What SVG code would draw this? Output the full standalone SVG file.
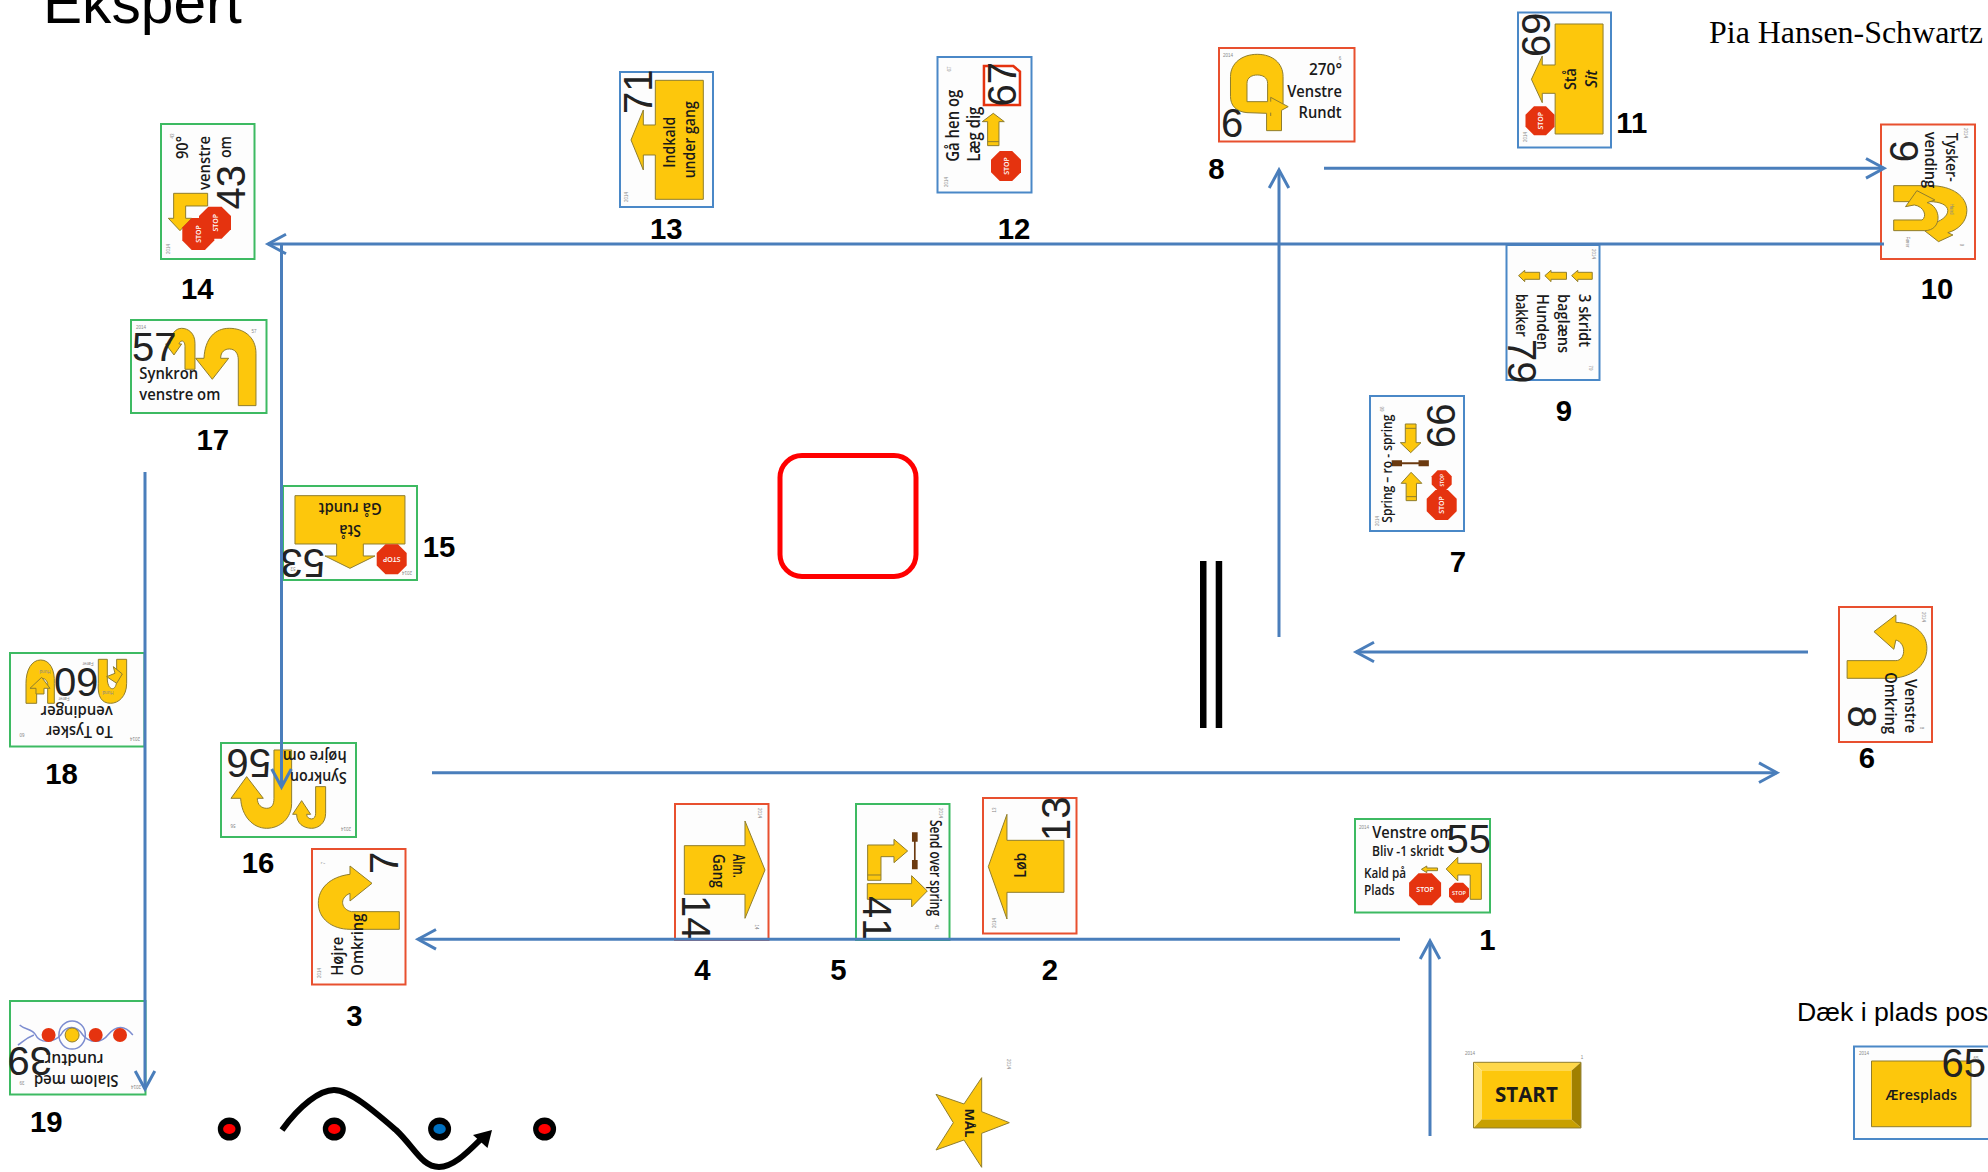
<svg xmlns="http://www.w3.org/2000/svg" width="1988" height="1172" viewBox="0 0 1988 1172">
<style>
text{font-family:"Open Sans","Liberation Sans",sans-serif}
.bg{fill:#fff}
.c{fill:#fdfdfd;stroke-width:2}
.r{stroke:#e8502f}.g{stroke:#3dba62}.b{stroke:#4a88c7}
.a{fill:#fdc70c;stroke:#8f7d2e;stroke-width:1;vector-effect:non-scaling-stroke}
.ln{fill:none;stroke:#8f7d2e;stroke-width:1;vector-effect:non-scaling-stroke}
.h{fill:#fdfdfd;stroke:#8f7d2e;stroke-width:1;vector-effect:non-scaling-stroke}
.j{fill:#6b3a10}
.t{font-size:17px;font-weight:600;fill:#1a1a1a}
.n{font-family:"Liberation Sans",sans-serif;font-size:40px;fill:#222}
.l{font-family:"Liberation Sans",sans-serif;font-size:29.33px;font-weight:700;fill:#000;text-anchor:middle}
.s{font-family:"Liberation Sans",sans-serif;font-size:4.5px;fill:#888;text-anchor:middle}
.st{font-size:7px;font-weight:600;fill:#fff;text-anchor:middle;dominant-baseline:central}
.ct{fill:none;stroke:#4a7ebb;stroke-width:3;marker-end:url(#ah)}
.wv{fill:none;stroke:#7d8dd0;stroke-width:1.5;vector-effect:non-scaling-stroke}
</style>
<defs>
<polygon id="o" fill="#e5330f" points="-.414,-1 .414,-1 1,-.414 1,.414 .414,1 -.414,1 -1,.414 -1,-.414"/>
<marker id="ah" markerUnits="userSpaceOnUse" markerWidth="26" markerHeight="26" refX="21" refY="13" orient="auto" overflow="visible">
<path d="M3,3.2 L21,13 L3,22.8" fill="none" stroke="#4a7ebb" stroke-width="3"/>
</marker>
</defs>
<rect class="bg" width="1988" height="1172"/>
<text x="43" y="23" font-size="58.67" style="font-family:'Liberation Sans',sans-serif" fill="#000">Ekspert</text>
<text x="1709" y="42.5" font-size="32" style="font-family:'Liberation Serif',serif" fill="#000" textLength="274" lengthAdjust="spacingAndGlyphs">Pia Hansen-Schwartz</text>
<text x="1797" y="1020.5" font-size="26.67" style="font-family:'Liberation Sans',sans-serif" fill="#000">Dæk i plads pos</text>

<g id="n14">
<rect class="c g" x="161" y="124" width="93.5" height="135"/>
<g transform="scale(.3333)"><polygon class="a" points="521,580 623,580 623,618 557,618 557,655 575,655 540,692 505,655 521,655"/></g>
<use href="#o" transform="translate(198.3,234) scale(16)"/><use href="#o" transform="translate(215,222.7) scale(16)"/>
<text class="st" transform="translate(198.3,234) rotate(-90)">STOP</text><text class="st" transform="translate(215,222.7) rotate(-90)">STOP</text>
<text class="t" transform="translate(188,159) rotate(-90)" textLength="23" lengthAdjust="spacingAndGlyphs">90°</text>
<text class="t" transform="translate(210,190) rotate(-90)" textLength="54" lengthAdjust="spacingAndGlyphs">venstre</text>
<text class="t" transform="translate(231,158) rotate(-90)" textLength="22" lengthAdjust="spacingAndGlyphs">om</text>
<text class="n" transform="translate(245,209.5) rotate(-90)">43</text>
<text class="s" transform="translate(174,136) rotate(-90)">43</text><text class="s" transform="translate(170,249) rotate(-90)">2014</text>
</g>
<g id="n17">
<rect class="c g" x="131" y="320" width="135.5" height="93"/>
<g transform="scale(.3333)">
<path class="a" d="M585,1108 L585,1030 C585,1000 565,985 545,985 C525,985 512,1005 510,1032 L497,1032 L522,1065 L545,1032 L537,1032 C540,1020 555,1018 555,1040 L555,1108 Z"/>
<path class="a" d="M768,1217 L768,1060 C768,1010 730,985 688,985 C645,985 615,1015 612,1075 L587,1075 L637,1138 L686,1075 L662,1075 C662,1055 675,1047 688,1047 C705,1047 715,1060 715,1080 L715,1217 Z"/>
</g>
<text class="n" x="132" y="361">57</text>
<text class="t" x="139.3" y="379.3" textLength="59" lengthAdjust="spacingAndGlyphs">Synkron</text>
<text class="t" x="139.3" y="400" textLength="81" lengthAdjust="spacingAndGlyphs">venstre om</text>
<text class="s" x="141" y="329">2014</text><text class="s" x="254" y="333">57</text>
</g>
<g id="n13">
<rect class="c b" x="620" y="72" width="93" height="135"/>
<g transform="translate(580,0) scale(.3333)"><polygon class="a" points="370,241 226,241 226,375 190,375 190,330 153,420 190,510 190,465 226,465 226,598 370,598"/></g>
<text class="t" transform="translate(675.3,167.7) rotate(-90)" textLength="51" lengthAdjust="spacingAndGlyphs">Indkald</text>
<text class="t" transform="translate(695,178.3) rotate(-90)" textLength="77" lengthAdjust="spacingAndGlyphs">under gang</text>
<text class="n" transform="translate(652.3,114) rotate(-90)">71</text>
<text class="s" transform="translate(628,197) rotate(-90)">2014</text>
</g>
<g id="n12">
<rect class="c b" x="937.5" y="57" width="94" height="135.5"/>
<g transform="translate(580,0) scale(.3333)">
<polygon class="a" style="fill:#fff;stroke:#e5330f;stroke-width:2.5" points="1212,198 1300,198 1320,215 1320,315 1212,315"/>
<polygon class="a" points="1240,340 1273,365 1257,365 1257,437 1223,437 1223,365 1207,365"/><path class="ln" d="M1223,425 H1257"/>
</g>
<use href="#o" transform="translate(1006,166) scale(15)"/>
<text class="st" transform="translate(1006,166) rotate(-90)">STOP</text>
<text class="t" style="font-size:18px" transform="translate(959.3,161.7) rotate(-90)" textLength="72" lengthAdjust="spacingAndGlyphs">Gå hen og</text>
<text class="t" style="font-size:18px" transform="translate(980,161.7) rotate(-90)" textLength="55" lengthAdjust="spacingAndGlyphs">Læg dig</text>
<text class="n" transform="translate(1016,106.5) rotate(-90)">67</text>
<text class="s" transform="translate(951,69) rotate(-90)">67</text><text class="s" transform="translate(948,182) rotate(-90)">2014</text>
</g>
<g id="n8">
<rect class="c r" x="1219" y="48" width="135.5" height="93.5"/>
<g transform="translate(1180,0) scale(.5153,.3333)">
<path class="a" d="M168,392 L168,340 L130,338 C108,335 98,315 98,290 L98,230 C98,190 120,163 150,163 C180,163 200,190 200,230 L200,312 L210,320 L197,331 L197,392 Z"/>
<path class="h" d="M130,305 L130,250 C130,232 140,225 150,225 C160,225 170,232 170,250 L170,305 Z"/>
<path class="ln" d="M176,305 L176,292 L200,312 M176,348 L176,338"/>
</g>
<text class="t" x="1309" y="75" textLength="33" lengthAdjust="spacingAndGlyphs">270°</text>
<text class="t" x="1287.2" y="96.7" textLength="54.7" lengthAdjust="spacingAndGlyphs">Venstre</text>
<text class="t" x="1298.6" y="117.7" textLength="43" lengthAdjust="spacingAndGlyphs">Rundt</text>
<text class="n" x="1221" y="136.7">6</text>
<text class="s" x="1228" y="57">2014</text><text class="s" x="1340" y="60">6</text>
</g>
<g id="n11">
<rect class="c b" x="1518" y="12.5" width="93" height="135"/>
<g transform="translate(1180,0) scale(.5153,.3333)"><polygon class="a" points="821,72 728,72 728,195 703,195 703,168 682,238 703,308 703,280 728,280 728,402 821,402"/></g>
<use href="#o" transform="translate(1540,120.7) scale(14.5)"/>
<text class="st" transform="translate(1540,120.7) rotate(-90)">STOP</text>
<text class="t" transform="translate(1576,90) rotate(-90)" textLength="21.7" lengthAdjust="spacingAndGlyphs">Stå</text>
<text class="t" style="font-style:italic" transform="translate(1596.5,87.7) rotate(-90)" textLength="17.7" lengthAdjust="spacingAndGlyphs">Sit</text>
<text class="n" transform="translate(1550,57) rotate(-90)">69</text>
<text class="s" transform="translate(1527,137) rotate(-90)">2014</text>
</g>
<g id="n10">
<rect class="c r" x="1881" y="124.5" width="94" height="134.5"/>
<g transform="translate(1180,0) scale(.5153,.3333)">
<path class="a" d="M1385,557 L1455,557 C1500,557 1527,590 1527,632 C1527,665 1510,690 1490,698 L1500,705 L1472,725 L1435,680 L1460,670 C1475,665 1490,650 1490,632 C1490,615 1475,605 1455,605 L1385,605 Z"/>
<path class="a" d="M1385,692 L1445,692 C1480,692 1478,620 1450,608 L1465,600 L1430,572 L1408,620 L1425,615 C1445,620 1450,650 1440,660 L1385,660 Z"/>
</g>
<text class="t" style="font-size:16px" transform="translate(1945.5,132.7) rotate(90)" textLength="49" lengthAdjust="spacingAndGlyphs">Tysker-</text>
<text class="t" style="font-size:16px" transform="translate(1924.8,131.7) rotate(90)" textLength="56.6" lengthAdjust="spacingAndGlyphs">vending</text>
<text class="n" transform="translate(1890,140) rotate(90)">9</text>
<text class="s" transform="translate(1950,209) rotate(90)">Hund</text><text class="s" transform="translate(1906,242) rotate(90)">Fører</text>
<text class="s" transform="translate(1960,245) rotate(90)">9</text><text class="s" transform="translate(1964,133) rotate(90)">2014</text>
</g>
<g id="n9">
<rect class="c b" x="1506.5" y="245" width="93" height="135"/>
<g transform="translate(1180,0) scale(.5153,.3333)">
<polygon class="a" points="800,817 800,838 772,838 772,845 760,827 772,811 772,817"/>
<polygon class="a" points="750,817 750,838 720,838 720,845 708,827 720,811 720,817"/>
<polygon class="a" points="698,817 698,838 669,838 669,845 657,827 669,811 669,817"/>
</g>
<text class="t" style="font-size:16px" transform="translate(1578.5,294) rotate(90)" textLength="53" lengthAdjust="spacingAndGlyphs">3 skridt</text>
<text class="t" style="font-size:16px" transform="translate(1557.8,294) rotate(90)" textLength="59" lengthAdjust="spacingAndGlyphs">baglæns</text>
<text class="t" style="font-size:16px" transform="translate(1536.7,294) rotate(90)" textLength="56" lengthAdjust="spacingAndGlyphs">Hunden</text>
<text class="t" style="font-size:16px" transform="translate(1516,294) rotate(90)" textLength="42.7" lengthAdjust="spacingAndGlyphs">bakker</text>
<text class="n" transform="translate(1508.4,339) rotate(90)">79</text>
<text class="s" transform="translate(1589,368) rotate(90)">79</text><text class="s" transform="translate(1592,254) rotate(90)">2014</text>
</g>
<g id="n7">
<rect class="c b" x="1370" y="396" width="94" height="135"/>
<g transform="translate(1340,380) scale(.4133,.3333)">
<polygon class="a" points="158,132 184,132 184,188 196,188 171,218 146,188 158,188"/><path class="ln" d="M158,145 H184"/>
<polygon class="a" points="172,277 198,310 185,310 185,362 160,362 160,310 148,310"/><path class="ln" d="M160,350 H185"/>
<path class="j" d="M125,241 H150 V247 H190 V241 H215 V259 H190 V253 H150 V259 H125 Z"/>
</g>
<use href="#o" transform="translate(1441.7,480.3) scale(10)"/><use href="#o" transform="translate(1441.7,505) scale(15)"/>
<text class="st" style="font-size:5px" transform="translate(1441.7,480.3) rotate(-90)">STOP</text>
<text class="st" transform="translate(1441.7,505) rotate(-90)">STOP</text>
<text class="t" style="font-size:15px" transform="translate(1391.7,522.7) rotate(-90)" textLength="108" lengthAdjust="spacingAndGlyphs">Spring – ro - spring</text>
<text class="n" transform="translate(1454.9,448) rotate(-90)">66</text>
<text class="s" transform="translate(1384,409) rotate(-90)">66</text><text class="s" transform="translate(1379,521) rotate(-90)">2014</text>
</g>
<g id="n6">
<rect class="c r" x="1839" y="607" width="93" height="135"/>
<g transform="translate(1340,380) scale(.4133,.3333)">
<path class="a" d="M1227,842 L1345,842 C1368,842 1372,790 1345,780 L1340,808 L1292,755 L1345,705 L1345,727 C1395,730 1420,765 1420,805 C1420,860 1380,895 1330,895 L1227,895 Z"/>
</g>
<text class="t" transform="translate(1905.3,679) rotate(90)" textLength="54" lengthAdjust="spacingAndGlyphs">Venstre</text>
<text class="t" transform="translate(1884.6,672.3) rotate(90)" textLength="61.7" lengthAdjust="spacingAndGlyphs">Omkring</text>
<text class="n" transform="translate(1848,705.5) rotate(90)">8</text>
<text class="s" transform="translate(1922,617) rotate(90)">2014</text><text class="s" transform="translate(1920,728) rotate(90)">8</text>
</g>
<g id="n15">
<rect class="c g" x="283" y="486" width="134" height="94"/>
<g transform="translate(0,470) scale(.3333)"><polygon class="a" points="885,77 1215,77 1215,222 1090,222 1090,258 1125,258 1050,295 975,258 1010,258 1010,222 885,222"/></g>
<use href="#o" transform="translate(391.7,559.3) scale(15)"/>
<text class="st" transform="translate(391.7,559.3) rotate(180)">STOP</text>
<text class="t" transform="translate(381.7,503.3) rotate(180)" textLength="63" lengthAdjust="spacingAndGlyphs">Gå rundt</text>
<text class="t" transform="translate(361,525) rotate(180)" textLength="21.7" lengthAdjust="spacingAndGlyphs">Stå</text>
<text class="n" transform="translate(325,549.3) rotate(180)">53</text>
<text class="s" transform="translate(407,571) rotate(180)">2014</text><text class="s" transform="translate(293,567) rotate(180)">53</text>
</g>
<g id="n18">
<rect class="c g" x="10" y="653" width="134.5" height="93.5"/>
<g transform="translate(0,470) scale(.3333)">
<path class="a" d="M78,700 L110,700 L110,650 C110,625 135,615 143,640 L143,700 L163,700 L163,640 C165,600 150,570 122,570 C95,570 78,600 78,640 Z"/>
<polygon class="a" points="90,655 125,622 150,655 132,655 132,672 108,672 108,655"/>
<path class="a" d="M295,568 L322,568 L322,630 C325,665 350,665 350,630 L350,568 L380,568 L380,640 C380,680 355,700 332,700 C305,700 292,680 295,640 Z"/>
<polygon class="a" points="320,620 350,640 367,612 340,590 345,610"/>
</g>
<text class="t" transform="translate(112.7,726) rotate(180)" textLength="66.7" lengthAdjust="spacingAndGlyphs">To Tysker</text>
<text class="t" transform="translate(112.7,706) rotate(180)" textLength="72" lengthAdjust="spacingAndGlyphs">vendinger</text>
<text class="n" transform="translate(98.5,668.3) rotate(180)">60</text>
<text class="s" transform="translate(45,670) rotate(180)">Hund</text><text class="s" transform="translate(108,691) rotate(180)">Hund</text>
<text class="s" transform="translate(88,662) rotate(180)">Fører</text><text class="s" transform="translate(64,697) rotate(180)">Fører</text>
<text class="s" transform="translate(135,737) rotate(180)">2014</text><text class="s" transform="translate(22,733) rotate(180)">60</text>
</g>
<g id="n16">
<rect class="c g" x="221" y="743" width="135" height="94"/>
<g transform="translate(0,470) scale(.3333)">
<path class="a" d="M822,840 L875,840 L875,1000 C875,1045 840,1075 800,1075 C760,1075 725,1040 722,985 L693,985 L740,920 L790,985 L772,985 C772,1005 785,1015 800,1015 C815,1015 822,1005 822,985 Z"/>
<path class="a" d="M947,950 L977,950 L977,1030 C977,1060 955,1075 935,1075 C910,1075 890,1060 890,1033 L878,1033 L905,992 L932,1033 L920,1033 C920,1042 928,1047 935,1047 C942,1047 947,1040 947,1030 Z"/>
</g>
<text class="t" transform="translate(346.7,751) rotate(180)" textLength="64" lengthAdjust="spacingAndGlyphs">højre om</text>
<text class="t" transform="translate(346.7,772.3) rotate(180)" textLength="56.7" lengthAdjust="spacingAndGlyphs">Synkron</text>
<text class="n" transform="translate(271,749.3) rotate(180)">56</text>
<text class="s" transform="translate(346,827) rotate(180)">2014</text><text class="s" transform="translate(233,824) rotate(180)">56</text>
</g>
<g id="n4">
<rect class="c r" x="675" y="804" width="93.5" height="136"/>
<g transform="translate(640,780) scale(.3333)"><polygon class="a" points="133,197 315,197 315,123 375,270 315,415 315,343 133,343"/></g>
<text class="t" transform="translate(733.3,854) rotate(90)" textLength="23.7" lengthAdjust="spacingAndGlyphs">Alm.</text>
<text class="t" transform="translate(713.3,854) rotate(90)" textLength="33.7" lengthAdjust="spacingAndGlyphs">Gang</text>
<text class="n" transform="translate(682.3,895) rotate(90)">14</text>
<text class="s" transform="translate(758,813) rotate(90)">2014</text><text class="s" transform="translate(755,927) rotate(90)">14</text>
</g>
<g id="n5">
<rect class="c g" x="856" y="804" width="93.5" height="136"/>
<g transform="translate(640,780) scale(.3333)">
<polygon class="a" points="683,195 762,195 762,178 803,213 762,248 762,230 723,230 723,301 683,301"/><path class="ln" d="M683,285 H723"/>
<polygon class="a" points="682,311 815,311 815,287 862,333 815,381 815,358 682,358"/>
<path class="j" d="M816,157 H833 V185 H827 V240 H833 V268 H816 V240 H822 V185 H816 Z"/>
</g>
<text class="t" style="font-size:16px" transform="translate(930,820) rotate(90)" textLength="96" lengthAdjust="spacingAndGlyphs">Send over spring</text>
<text class="n" transform="translate(863.3,896) rotate(90)">41</text>
<text class="s" transform="translate(939,813) rotate(90)">2014</text><text class="s" transform="translate(935,927) rotate(90)">41</text>
</g>
<g id="n2">
<rect class="c r" x="983" y="798" width="93.5" height="135.5"/>
<g transform="translate(640,780) scale(.3333)"><polygon class="a" points="1272,181 1101,181 1101,103 1045,260 1101,417 1101,337 1272,337"/></g>
<text class="t" transform="translate(1026,877.7) rotate(-90)" textLength="25" lengthAdjust="spacingAndGlyphs">Løb</text>
<text class="n" transform="translate(1070,841) rotate(-90)">13</text>
<text class="s" transform="translate(996,810) rotate(-90)">13</text><text class="s" transform="translate(996,923) rotate(-90)">2014</text>
</g>
<g id="n3">
<rect class="c r" x="312" y="849" width="93.5" height="135.5"/>
<g transform="translate(300,830) scale(.3333)">
<path class="a" d="M298,245 L155,245 C125,240 115,205 150,190 L150,213 L216,160 L150,108 L150,133 C90,140 55,175 55,220 C55,265 95,298 150,298 L298,298 Z"/>
</g>
<text class="t" transform="translate(343.3,975.7) rotate(-90)" textLength="39" lengthAdjust="spacingAndGlyphs">Højre</text>
<text class="t" transform="translate(363.3,975.7) rotate(-90)" textLength="62" lengthAdjust="spacingAndGlyphs">Omkring</text>
<text class="n" transform="translate(398.3,874) rotate(-90)">7</text>
<text class="s" transform="translate(325,863) rotate(-90)">7</text><text class="s" transform="translate(321,973) rotate(-90)">2014</text>
</g>
<g id="n19">
<rect class="c g" x="10" y="1001" width="135.5" height="93.5"/>
<g transform="translate(0,980) scale(.3571,.3333)">
<path class="wv" d="M372,165 C350,135 325,135 302,165 C285,190 250,190 232,165 C215,135 185,135 170,165 C150,190 110,190 100,165 C90,145 70,150 55,135"/>
<path class="wv" d="M95,165 C70,175 60,190 50,195"/>
<ellipse class="wv" cx="202" cy="165" rx="37" ry="42"/>
</g>
<g fill="#e5330f"><circle cx="48.6" cy="1035" r="7"/><circle cx="95.7" cy="1035" r="7"/><circle cx="120" cy="1035" r="7"/></g>
<circle cx="72.1" cy="1035" r="7" fill="#fdc70c" stroke="#8f7d2e"/>
<text class="t" transform="translate(118.6,1074.5) rotate(180)" textLength="84.7" lengthAdjust="spacingAndGlyphs">Slalom med</text>
<text class="t" transform="translate(103.6,1054) rotate(180)" textLength="59" lengthAdjust="spacingAndGlyphs">rundtur</text>
<text class="n" transform="translate(52,1046.7) rotate(180)">39</text>
<text class="s" transform="translate(136,1085) rotate(180)">2014</text><text class="s" transform="translate(22,1081) rotate(180)">39</text>
</g>
<g id="n1">
<rect class="c g" x="1355" y="819" width="135" height="93.5"/>
<g transform="translate(1340,780) scale(.4133,.3333)">
<polygon class="a" points="236,264 210,264 210,258 197,268 210,278 210,272 236,272"/>
<polygon class="a" points="342,250 285,250 285,232 257,267 285,303 285,285 315,285 315,358 342,358"/>
</g>
<use href="#o" transform="translate(1425.1,889.3) scale(16)"/><use href="#o" transform="translate(1459,892.7) scale(10)"/>
<text class="st" x="1425.1" y="889.3">STOP</text><text class="st" style="font-size:5.5px" x="1459" y="892.7">STOP</text>
<text class="t" x="1372.2" y="838.3" textLength="81" lengthAdjust="spacingAndGlyphs">Venstre om</text>
<text class="t" style="font-size:15px" x="1372" y="856" textLength="72" lengthAdjust="spacingAndGlyphs">Bliv -1 skridt</text>
<text class="t" style="font-size:15px" x="1364" y="878.3" textLength="42" lengthAdjust="spacingAndGlyphs">Kald på</text>
<text class="t" style="font-size:15px" x="1364" y="895" textLength="30.5" lengthAdjust="spacingAndGlyphs">Plads</text>
<text class="n" x="1446.5" y="853.3">55</text>
<text class="s" x="1364" y="829">2014</text>
</g>
<g id="start">
<g transform="translate(1340,780) scale(.4133,.3333)">
<polygon fill="#ffd84a" points="323,847 583,847 560,872 343,872"/>
<polygon fill="#ffe066" points="323,847 343,872 343,1018 323,1044"/>
<polygon fill="#a08000" points="583,847 560,872 560,1018 583,1044"/>
<polygon fill="#c8a000" points="323,1044 343,1018 560,1018 583,1044"/>
<rect fill="#fdc70c" x="343" y="872" width="217" height="146"/>
<rect class="ln" x="323" y="847" width="260" height="197"/>
</g>
<text class="t" style="font-size:21px;font-weight:700" x="1495" y="1101.7" textLength="62.8" lengthAdjust="spacingAndGlyphs">START</text>
<text class="s" x="1470" y="1055">2014</text><text class="s" x="1582" y="1059">1</text>
</g>
<g id="n65">
<rect class="c b" x="1854" y="1046.5" width="140" height="92.5"/>
<rect class="a" x="1871.5" y="1061" width="99.5" height="65.7"/>
<text class="t" style="font-size:15px" x="1885.5" y="1100" textLength="71.5" lengthAdjust="spacingAndGlyphs">Æresplads</text>
<text class="n" x="1941.5" y="1077">65</text>
<text class="s" x="1864" y="1055">2014</text><text class="s" x="1976" y="1060">65</text>
</g>
<g id="maal">
<g transform="translate(900,1030) scale(.3333)"><polygon class="a" points="328,278 245,245 245,143 192,222 108,193 160,278 108,360 192,330 245,412 245,310"/></g>
<text class="t" style="font-size:13px;font-weight:700" transform="translate(965,1108.5) rotate(90)" textLength="29" lengthAdjust="spacingAndGlyphs">MÅL</text>
<text class="s" transform="translate(1007,1064) rotate(90)">2014</text>
</g>
<g id="barrier">
<rect x="780" y="455.5" width="136" height="121" rx="22" fill="none" stroke="#f00" stroke-width="5"/>
<rect x="1200" y="561" width="6.5" height="167" fill="#000"/>
<rect x="1215.7" y="561" width="6.5" height="167" fill="#000"/>
</g>
<g id="slalom">
<g fill="#000"><circle cx="229.3" cy="1129" r="11.5"/><circle cx="334.3" cy="1129" r="11.5"/><circle cx="439.6" cy="1129" r="11.5"/><circle cx="544.6" cy="1129" r="11.5"/></g>
<ellipse cx="229.3" cy="1129" rx="6.2" ry="5" fill="#f00"/><ellipse cx="334.3" cy="1129" rx="6.2" ry="5" fill="#f00"/><ellipse cx="439.6" cy="1129" rx="6.2" ry="5" fill="#0070c0"/><ellipse cx="544.6" cy="1129" rx="6.2" ry="5" fill="#f00"/>
<path d="M282,1130 C300,1105 320,1090 334,1090 C350,1090 375,1112 396,1130 C415,1148 422,1167 439,1167 C452,1167 465,1155 480,1140" fill="none" stroke="#000" stroke-width="6"/>
<polygon points="492,1130 473,1135 487.5,1148" fill="#000"/>
</g>
<g id="connectors">
<path class="ct" d="M1430,1136 V941"/>
<path class="ct" d="M1400,939.3 H418"/>
<path class="ct" d="M432,772.7 H1777"/>
<path class="ct" d="M1808,652 H1356"/>
<path class="ct" d="M1279,637 V170"/>
<path class="ct" d="M1324,168.3 H1884"/>
<path class="ct" d="M1884,244 H268"/>
<path class="ct" d="M281.5,244 V787"/>
<path class="ct" d="M145,472 V1089"/>
</g>
<g id="labels">
<text class="l" x="197.3" y="299.3">14</text><text class="l" x="212.8" y="449.5">17</text>
<text class="l" x="666.2" y="239">13</text><text class="l" x="1014" y="239">12</text>
<text class="l" x="1216.3" y="179">8</text><text class="l" x="1631.8" y="132.7">11</text>
<text class="l" x="1937" y="299.3">10</text><text class="l" x="1564" y="421">9</text>
<text class="l" x="1458" y="571.7">7</text><text class="l" x="1866.9" y="768.3">6</text>
<text class="l" x="439" y="556.7">15</text><text class="l" x="61.5" y="784">18</text>
<text class="l" x="258" y="873.3">16</text><text class="l" x="702.5" y="980">4</text>
<text class="l" x="838.5" y="980">5</text><text class="l" x="1050" y="980">2</text>
<text class="l" x="1487.5" y="950">1</text><text class="l" x="354.5" y="1025.7">3</text>
<text class="l" x="46.3" y="1132.3">19</text>
</g>
</svg>
